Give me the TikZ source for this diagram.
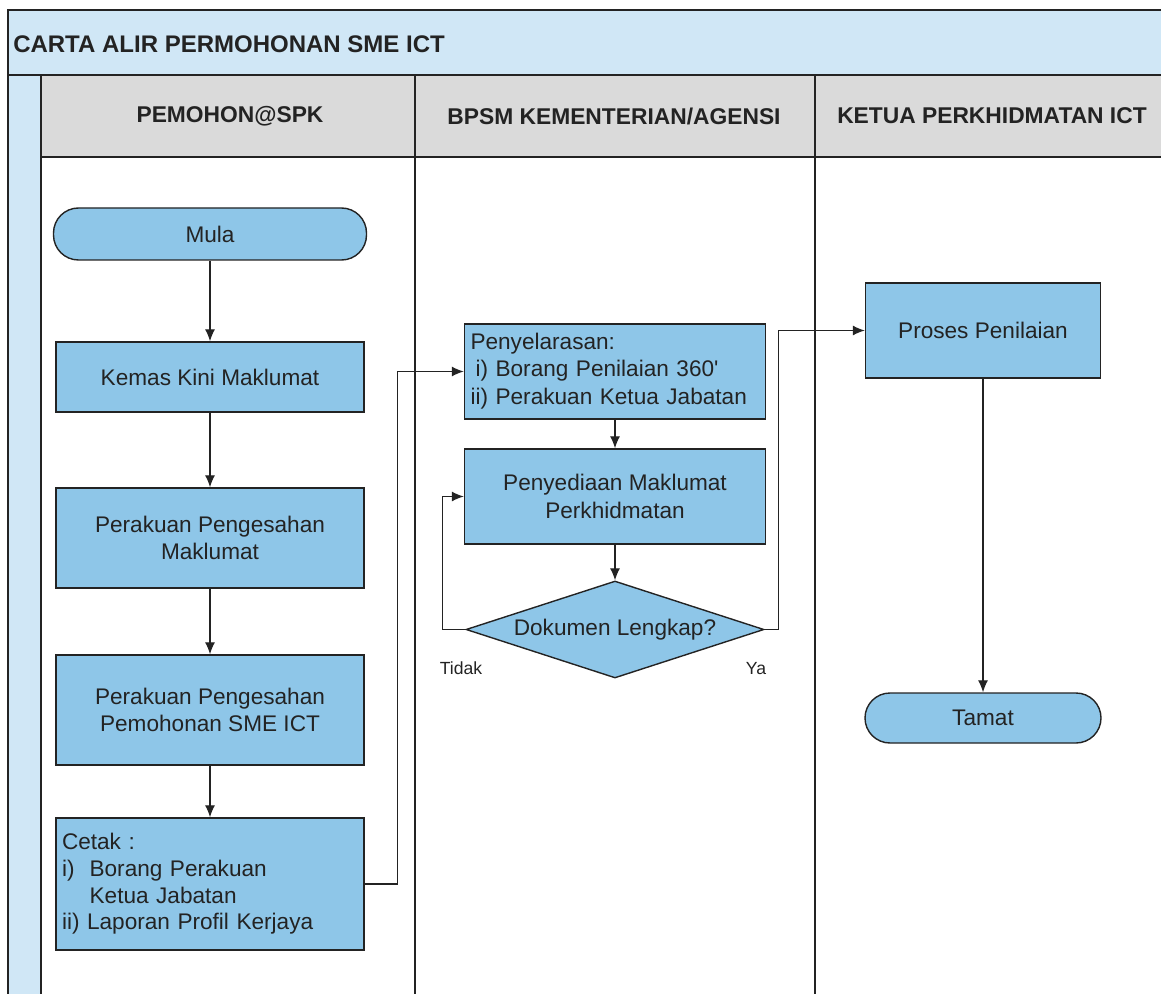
\documentclass[tikz,border=0pt]{standalone}
\usepackage{fontspec}
\setmainfont{Liberation Sans}
\usetikzlibrary{arrows.meta,shapes.geometric}
\definecolor{boxblue}{RGB}{142,198,232}
\definecolor{bandblue}{RGB}{208,231,246}
\definecolor{headgray}{RGB}{218,218,218}
\definecolor{inkgray}{RGB}{35,35,35}
\begin{document}
\begin{tikzpicture}[x=0.5pt,y=-0.5pt,>={Latex[length=6pt,width=5pt]},
  line width=0.6pt,draw=inkgray,
  every node/.style={font=\fontsize{11.3}{13.6}\selectfont,text=inkgray},
  box/.style={draw=inkgray,fill=boxblue,line width=0.7pt,minimum width=154pt,align=center,inner sep=3pt},
  term/.style={box,rounded corners=12.5pt},
  dec/.style={draw=inkgray,fill=boxblue,line width=0.7pt,diamond,aspect=3.07,inner sep=1pt,minimum width=149pt,minimum height=48.5pt},
  hdr/.style={font=\fontsize{11.4}{13.6}\selectfont\bfseries},
  lbl/.style={font=\fontsize{8.8}{10}\selectfont}]
\useasboundingbox (0,0) rectangle (1161,994);
\fill[bandblue](8,10)rectangle(1161,75);
\fill[bandblue](8,75)rectangle(41,994);
\fill[headgray](41,75)rectangle(1161,157);
\draw(8,994)--(8,10)--(1161,10);
\draw(8,75)--(1161,75);
\draw(41,157)--(1161,157);
\draw(41,75)--(41,994);
\draw(415,75)--(415,994);
\draw(815,75)--(815,994);
\node[hdr,font=\fontsize{12}{14}\selectfont\bfseries,anchor=west] (title) at (6,44) {CARTA ALIR PERMOHONAN SME ICT};
\node[hdr] (lane1) at (230,116) {PEMOHON@SPK};
\node[hdr] (lane2) at (614,116) {BPSM KEMENTERIAN/AGENSI};
\node[hdr] (lane3) at (992,116) {KETUA PERKHIDMATAN ICT};
\node[term,minimum width=156.5pt,minimum height=26pt] (mula) at (210,234) {Mula};
\node[box,minimum height=35pt] (kemas) at (210,377) {Kemas Kini Maklumat};
\node[box,minimum height=50pt] (sahmaklumat) at (210,538) {Perakuan Pengesahan\\Maklumat};
\node[box,minimum height=55pt] (sahpemohonan) at (210,710) {Perakuan Pengesahan\\Pemohonan SME ICT};
\node[box,minimum height=66pt,text width=148pt,align=left] (cetak) at (210,884)
  {\begin{tabular}{@{}l@{\ \ }l@{}}\multicolumn{2}{@{}l}{Cetak :}\\i)&Borang Perakuan\\&Ketua Jabatan\\[-0.5pt]\multicolumn{2}{@{}l}{ii) Laporan Profil Kerjaya}\end{tabular}};
\node[box,minimum width=150.5pt,minimum height=47.5pt,text width=144.5pt,align=left] (selaras) at (615,371.5)
  {\begin{tabular}{@{}r@{ }l@{}}\multicolumn{2}{@{}l}{Penyelarasan:}\\i)&Borang Penilaian 360\textquotesingle\\ii)&Perakuan Ketua Jabatan\end{tabular}};
\node[box,minimum width=150.5pt,minimum height=47.5pt] (sedia) at (615,496.5) {Penyediaan Maklumat\\Perkhidmatan};
\node[dec] (lengkap) at (615,629.5) {Dokumen Lengkap?};
\node[box,minimum width=117.5pt,minimum height=47.5pt] (proses) at (983,330.5) {Proses Penilaian};
\node[term,minimum width=118pt,minimum height=25pt] (tamat) at (983,718) {Tamat};
\node[lbl] (tidak) at (461,668) {Tidak};
\node[lbl] (ya) at (756,669) {Ya};
\draw[->](mula)--(kemas);
\draw[->](kemas)--(sahmaklumat);
\draw[->](sahmaklumat)--(sahpemohonan);
\draw[->](sahpemohonan)--(cetak);
\draw[->](cetak.east)--++(33,0)|-(selaras.west);
\draw[->](selaras)--(sedia);
\draw[->](sedia)--(lengkap);
\draw[->](lengkap.west)--++(-23,0)|-(sedia.west);
\draw[->](lengkap.east)--++(14,0)|-(proses.west);
\draw[->](proses)--(tamat);
\end{tikzpicture}
\end{document}
